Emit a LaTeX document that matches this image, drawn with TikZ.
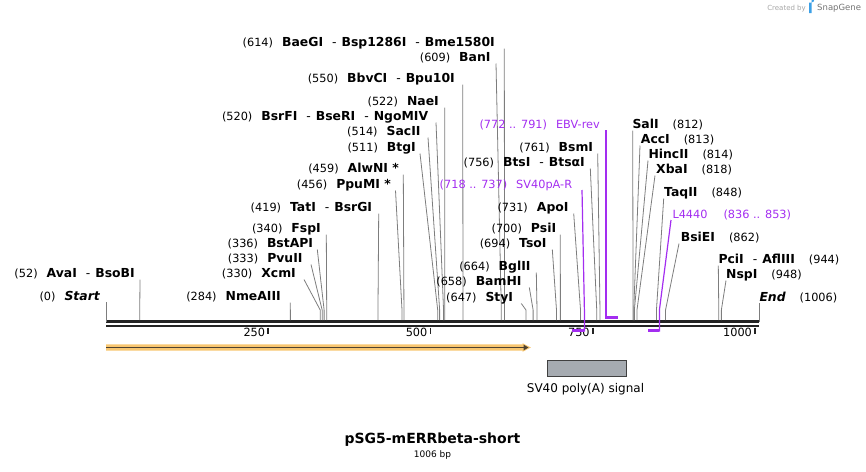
\documentclass[tikz,border=0pt]{standalone}
\usepackage{fontspec}
\setmainfont{DejaVu Sans}
\usetikzlibrary{arrows.meta,calc}
\definecolor{primer}{RGB}{163,45,240}
\definecolor{cutgray}{RGB}{125,125,125}
\definecolor{seqblack}{RGB}{35,35,35}
\definecolor{featorange}{RGB}{248,198,112}
\definecolor{featdark}{RGB}{78,66,50}
\definecolor{boxgray}{RGB}{166,171,177}
\definecolor{snapblue}{RGB}{60,160,230}
\newcommand{\bpx}[1]{106+0.64911*#1}
\newcommand{\numfont}{\fontsize{11.3}{13}\selectfont}
\newcommand{\enzfont}{\fontsize{12.4}{14}\selectfont\bfseries}
\newcommand{\enzsep}{\hspace{9pt}\textmd{-}\hspace{5pt}}
\begin{document}
\begin{tikzpicture}[x=1pt, y=-1pt,
    cut/.style={cutgray, line width=0.8pt},
    primerline/.style={primer, line width=1.2pt},
    primerbar/.style={primer, line width=2.4pt},
    sitelab/.style={inner sep=0pt, font=\numfont},
    primerlab/.style={inner sep=0pt, font=\numfont, text=primer}]
\useasboundingbox (0,0) rectangle (866,471);
\node[inner sep=0pt, anchor=base east, font=\fontsize{7}{8}\selectfont, text=black!35] (madeby) at (806,10) {Created by};
\fill[snapblue] (809,2.5) rectangle (811.5,13) (811.5,2.5) arc[start angle=90, end angle=-90, radius=2.8];
\node[inner sep=0pt, anchor=base west, font=\fontsize{8.5}{9}\selectfont, text=black!55] (snapgene) at (817,10.5) {SnapGene};
\coordinate (s0) at (106,321.5);
\coordinate (s1) at (759,321.5);
\draw[seqblack, line width=2.4pt] (s0) -- (s1);
\draw[seqblack, line width=2.4pt] ($(s0)+(0,4.3)$) -- ($(s1)+(0,4.3)$);
\foreach \t in {250,500,750,1000} {
  \coordinate (tick\t) at ({\bpx{\t}},327.5);
  \draw[seqblack, line width=1.8pt] (tick\t) -- ++(0,6);
  \node[sitelab, anchor=base east] (ticklab\t) at ({\bpx{\t}-3},336.5) {\t};
}
\foreach \bp/\tx/\ly/\lx/\name in {
  52/140/273/135/{AvaI\enzsep BsoBI},
  284/290.3/296/281/NmeAIII,
  330/304/273/296/XcmI,
  333/311/258/302.7/PvuII,
  336/317.3/243/313.3/BstAPI,
  340/326.3/228/321/FspI,
  419/378.7/207/372.3/{TatI\enzsep BsrGI},
  456/395.5/184/391/{PpuMI *},
  459/403.3/168/399/{AlwNI *},
  511/420/147/416/BtgI,
  514/428/131/420.7/SacII,
  520/436/116/428.3/{BsrFI\enzsep BseRI\enzsep NgoMIV},
  522/444.7/101/439/NaeI,
  550/462.7/78/455/{BbvCI\enzsep Bpu10I},
  609/496/57/490.7/BanI,
  614/504.3/42/495/{BaeGI\enzsep Bsp1286I\enzsep Bme1580I},
  647/521.3/297/513.3/StyI,
  658/529.3/281/521.7/BamHI,
  664/536.3/266/530.7/BglII,
  694/552.3/243/546.7/TsoI,
  700/560.3/228/556.3/PsiI,
  731/573.7/207/568.7/ApoI,
  756/590.3/162/585/{BtsI\enzsep BtsαI},
  761/597.7/147/593.3/BsmI%
} {
  \node[sitelab, anchor=base east] (L\bp) at (\lx,\ly+4.5) {(\bp)\hspace{9pt}{\enzfont\name}};
  \coordinate (T\bp) at (\tx,\ly+6.5);
  \coordinate (F\bp) at ({\bpx{\bp}},320);
  \draw[cut] (T\bp) -- ($(F\bp)+(0,-10)$) -- (F\bp);
}
\foreach \bp/\tx/\ly/\lx/\name in {
  812/632.7/124/632.3/SalI,
  813/640/139/640.7/AccI,
  814/648/154/648.3/HincII,
  818/655/169/656/XbaI,
  848/663.7/192/664/TaqII,
  862/679/237/680.7/BsiEI,
  944/718.3/259/718.3/{PciI\enzsep AflIII},
  948/726/274/726/NspI%
} {
  \node[sitelab, anchor=base west] (L\bp) at (\lx,\ly+4.5) {{\enzfont\name}\hspace{14pt}(\bp)};
  \coordinate (T\bp) at (\tx,\ly+6.5);
  \coordinate (F\bp) at ({\bpx{\bp}},320);
  \draw[cut] (T\bp) -- ($(F\bp)+(0,-10)$) -- (F\bp);
}
\node[sitelab, anchor=base east] (start) at (100,300.5) {(0)\hspace{9pt}{\enzfont\itshape Start}};
\coordinate (startT) at (106,302);
\draw[cut] (startT) -- (s0);
\node[sitelab, anchor=base west] (end) at (759.3,301.5) {{\enzfont\itshape End}\hspace{14pt}(1006)};
\coordinate (endT) at (759,303);
\draw[cut] (endT) -- (s1);
\node[primerlab, anchor=base east] (sv40R) at (572.3,188.5) {(718 .. 737)\hspace{9pt}SV40pA-R};
\coordinate (sv40T) at (582,190);
\coordinate (sv40F) at (584.4,331.5);
\draw[primerline] (sv40T) -- ($(sv40F)+(0,-21.5)$) -- (sv40F);
\draw[primerbar] (571.5,330.5) -- (sv40F |- 0,330.5);
\node[primerlab, anchor=base east] (ebv) at (600,128.5) {(772 .. 791)\hspace{9pt}EBV-rev};
\coordinate (ebvT) at (606,130);
\coordinate (ebvF) at (606,318.5);
\draw[primerline] (ebvT) -- (ebvF);
\draw[primerbar] (605.5,317.5) -- (618,317.5);
\node[primerlab, anchor=base west] (l4440) at (672.3,218.5) {L4440\hspace{16pt}(836 .. 853)};
\coordinate (l4440T) at (671,220);
\coordinate (l4440F) at (659.4,331.5);
\draw[primerline] (l4440T) -- ($(l4440F)+(0,-21.5)$) -- (l4440F);
\draw[primerbar] (648,330.5) -- (l4440F |- 0,330.5);
\fill[featorange] (106,344.3) -- (522.5,344.3) -- (522.5,343.2) -- (530.8,347.5) -- (522.5,351.8) -- (522.5,350.7) -- (106,350.7) -- cycle;
\draw[featdark, line width=1.6pt, -{Triangle[length=5pt,width=5.5pt]}] (106,347.5) -- (528.5,347.5);
\node[draw=black!75, fill=boxgray, line width=0.8pt, minimum width=79pt, minimum height=16pt, inner sep=0pt] (polyA) at (587,368.2) {};
\node[inner sep=0pt, font=\fontsize{12}{14}\selectfont] (polyAlab) at (585.5,389.5) {SV40 poly(A) signal};
\node[inner sep=0pt, font=\fontsize{14}{16}\selectfont\bfseries] (title) at (432.5,440) {pSG5-mERRbeta-short};
\node[inner sep=0pt, font=\fontsize{9}{10}\selectfont] (size) at (432.5,455) {1006 bp};
\end{tikzpicture}
\end{document}
